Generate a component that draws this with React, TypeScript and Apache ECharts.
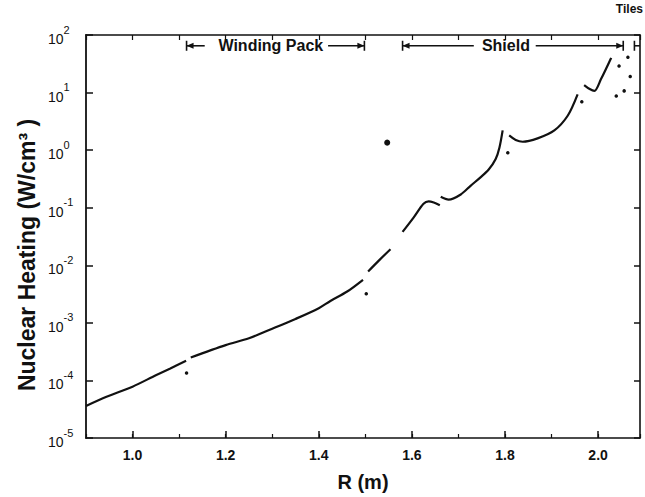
import React, { useEffect, useRef } from "react";
import * as echarts from "echarts";

// ---- data (R in m, nuclear heating in W/cm^3) ----
const xLabelValues = [1.0, 1.2, 1.4, 1.6, 1.8, 2.0];
const segA = [[0.9, 3.6e-5], [0.944, 5.2e-5], [1.0, 7.8e-5], [1.05, 1.23e-4], [1.08, 1.6e-4], [1.115, 2.2e-4]];
const segB = [[1.125, 2.5e-4], [1.2, 4.1e-4], [1.25, 5.4e-4], [1.3, 7.9e-4], [1.35, 1.17e-3], [1.4, 1.8e-3], [1.425, 2.4e-3], [1.461, 3.5e-3], [1.495, 5.6e-3]];
const segC = [[1.506, 7.8e-3], [1.53, 1.23e-2], [1.554, 1.9e-2]];
const segD = [[1.58, 3.8e-2], [1.604, 6.8e-2], [1.625, 0.117], [1.636, 0.129], [1.647, 0.123], [1.66, 0.11]];
const segE = [[1.662, 0.155], [1.679, 0.138], [1.705, 0.17], [1.726, 0.24], [1.748, 0.34], [1.765, 0.46], [1.78, 0.7], [1.788, 1.1], [1.795, 2.2]];
const segF = [[1.809, 1.8], [1.823, 1.5], [1.838, 1.4], [1.87, 1.6], [1.906, 2.2], [1.935, 4.0], [1.956, 9.3]];
const segG = [[1.97, 13.5], [1.982, 11.5], [1.992, 10.7], [2.006, 17], [2.028, 40]];
const segments = [segA, segB, segC, segD, segE, segF, segG];
const smallDots = [[1.116, 1.35e-4], [1.502, 3.2e-3], [1.806, 0.9], [1.965, 6.9], [2.045, 29], [2.064, 41], [2.069, 19], [2.039, 8.7], [2.056, 10.7]];
const bigDots = [[1.547, 1.35]];

// region brackets along the top
const bracketLabels = ["Winding Pack", "Shield"];
const bracketStart = [1.116, 1.58];
const bracketEnd = [1.498, 2.054];
const bracketTextAt = [1.297, 1.802];
const bracketLeftEnd = [1.155, 1.733];
const bracketRightStart = [1.42, 1.866];
const tilesStart = 2.078;
const bracketLevel = 65;

const FONT = "'Liberation Sans', Arial, Helvetica, sans-serif";
const INK = "#111";

export default function App() {
  const ref = useRef<HTMLDivElement>(null);
  useEffect(() => {
    if (!ref.current) return;
    const chart = echarts.init(ref.current, undefined, { renderer: "svg" });
    const lineSeries = segments.map((seg) => ({
      type: "line",
      data: seg,
      xAxisIndex: 0,
      yAxisIndex: 0,
      showSymbol: false,
      smooth: 0.3,
      lineStyle: { color: INK, width: 2.2 },
      silent: true,
    }));
    chart.setOption({
      animation: false,
      backgroundColor: "#fff",
      grid: { left: 86, right: 5, top: 35, bottom: 53 },
      xAxis: [
        {
          type: "value",
          min: 0.9,
          max: 2.09,
          position: "bottom",
          axisLine: { show: true, lineStyle: { color: INK, width: 1.6 } },
          axisTick: { show: true, inside: true, length: 7, customValues: xLabelValues, lineStyle: { color: INK, width: 1.5 } },
          axisLabel: {
            customValues: xLabelValues,
            formatter: (v: number) => v.toFixed(1),
            color: INK,
            fontFamily: FONT,
            fontSize: 14,
            fontWeight: "bold",
            margin: 10,
          },
          splitLine: { show: false },
          name: "R (m)",
          nameLocation: "middle",
          nameGap: 34,
          nameTextStyle: { color: INK, fontFamily: FONT, fontSize: 20, fontWeight: "bold" },
        },
        {
          type: "value",
          min: 0.9,
          max: 2.09,
          interval: 0.1,
          position: "bottom",
          axisLine: { show: false },
          axisTick: { show: true, inside: true, length: 4, lineStyle: { color: INK, width: 1.2 } },
          axisLabel: { show: false },
          splitLine: { show: false },
        },
        {
          type: "value",
          min: 0.9,
          max: 2.09,
          interval: 0.1,
          position: "top",
          axisLine: { show: true, lineStyle: { color: INK, width: 1.6 } },
          axisTick: { show: true, inside: true, length: 5, lineStyle: { color: INK, width: 1.2 } },
          axisLabel: { show: false },
          splitLine: { show: false },
        },
      ],
      yAxis: [
        {
          type: "log",
          logBase: 10,
          min: 1e-5,
          max: 100,
          interval: 1,
          position: "left",
          axisLine: { show: true, lineStyle: { color: INK, width: 1.8 } },
          axisTick: { show: true, inside: true, length: 7, lineStyle: { color: INK, width: 1.5 } },
          axisLabel: {
            align: "left",
            margin: 38,
            formatter: (v: number) => `{b|10}{s|${Math.round(Math.log10(v))}}`,
            rich: {
              b: { fontFamily: FONT, fontSize: 14, color: INK, lineHeight: 22, verticalAlign: "bottom" },
              s: { fontFamily: FONT, fontSize: 11, color: INK, lineHeight: 14, verticalAlign: "top" },
            },
          },
          splitLine: { show: false },
        },
        {
          type: "log",
          logBase: 10,
          min: 1e-5,
          max: 100,
          interval: 1,
          position: "right",
          axisLine: { show: true, lineStyle: { color: INK, width: 1.6 } },
          axisTick: { show: true, inside: true, length: 6, lineStyle: { color: INK, width: 1.5 } },
          axisLabel: { show: false },
          splitLine: { show: false },
        },
      ],
      series: [
        ...lineSeries,
        {
          type: "scatter",
          data: smallDots,
          symbol: "circle",
          symbolSize: 3.5,
          itemStyle: { color: INK, opacity: 1 },
          silent: true,
        },
        {
          type: "scatter",
          data: bigDots,
          symbol: "circle",
          symbolSize: 6,
          itemStyle: { color: INK, opacity: 1 },
          silent: true,
        },
      ],
    });

    const px = (r: number) => chart.convertToPixel({ xAxisIndex: 0 }, r) as number;
    const y = chart.convertToPixel({ yAxisIndex: 0 }, bracketLevel) as number;
    const lineStyle = { stroke: INK, lineWidth: 1.6 };
    const els: any[] = [];
    const bar = (x: number) => ({ type: "line", shape: { x1: x, y1: y - 5, x2: x, y2: y + 5 }, style: lineStyle, silent: true });
    const seg = (a: number, b: number) => ({ type: "line", shape: { x1: a, y1: y, x2: b, y2: y }, style: lineStyle, silent: true });
    const arrowL = (x: number) => ({ type: "polygon", shape: { points: [[x, y], [x + 7, y - 3], [x + 7, y + 3]] }, style: { fill: INK }, silent: true });
    const arrowR = (x: number) => ({ type: "polygon", shape: { points: [[x, y], [x - 7, y - 3], [x - 7, y + 3]] }, style: { fill: INK }, silent: true });
    bracketLabels.forEach((label, i) => {
      const s = px(bracketStart[i]);
      const e = px(bracketEnd[i]);
      els.push(bar(s), arrowL(s), seg(s, px(bracketLeftEnd[i])));
      els.push(bar(e), arrowR(e), seg(px(bracketRightStart[i]), e));
      els.push({
        type: "text",
        x: px(bracketTextAt[i]),
        y,
        style: { text: label, fill: INK, font: `bold 16px ${FONT}`, align: "center", verticalAlign: "middle" },
        silent: true,
      });
    });
    const ts = px(tilesStart);
    const te = px(2.09);
    els.push(bar(ts), seg(ts, te));
    els.push({
      type: "text",
      x: 643,
      y: 9,
      style: { text: "Tiles", fill: INK, font: `bold 12px ${FONT}`, align: "right", verticalAlign: "middle" },
      silent: true,
    });
    els.push({
      type: "text",
      x: 27,
      y: 255,
      rotation: Math.PI / 2,
      style: {
        text: "Nuclear Heating (W/cm³ )",
        fill: INK,
        font: `bold 23px ${FONT}`,
        align: "center",
        verticalAlign: "middle",
      },
      silent: true,
    });
    chart.setOption({ graphic: els });

    return () => chart.dispose();
  }, []);
  return <div ref={ref} style={{ position: "fixed", left: 0, top: 0, width: 645, height: 497 }} />;
}
